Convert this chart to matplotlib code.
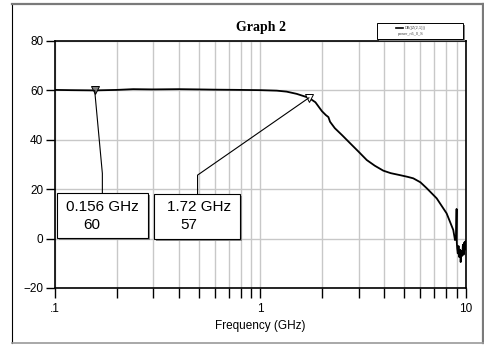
import numpy as np
import matplotlib
matplotlib.use("Agg")
import matplotlib.pyplot as plt
from matplotlib.patches import Rectangle
from matplotlib.lines import Line2D
from matplotlib.ticker import LogLocator, FixedLocator, NullFormatter


# =========================
# DATA
# =========================
freq_ghz = [0.1, 0.12, 0.156, 0.2, 0.24, 0.3, 0.4, 0.5, 0.6, 0.8, 1.0, 1.2,
            1.34, 1.5, 1.72, 1.85, 1.99, 2.08, 2.14, 2.18, 2.3, 2.5, 2.73,
            3.0, 3.29, 3.6, 3.96, 4.3, 4.77, 5.2, 5.54, 6.0, 6.44, 7.2, 8.05,
            8.67, 8.84, 8.95, 9.0, 9.02, 9.06, 9.12, 9.2, 9.28, 9.35, 9.42,
            9.5, 9.58, 9.66, 9.74, 9.82, 9.9, 9.96, 10.0]
gain_db = [60.2, 60.1, 60.0, 60.2, 60.5, 60.4, 60.5, 60.4, 60.3, 60.2, 60.1,
           59.9, 59.5, 58.6, 57.0, 55.2, 51.6, 50.0, 49.2, 47.3, 44.7, 41.8,
           38.6, 35.2, 31.8, 29.5, 27.5, 26.5, 25.7, 25.0, 24.4, 22.8, 20.4,
           16.3, 10.2, 3.5, -0.6, 0.5, 12.0, -1.5, -4.0, -6.0, -3.0, -7.5,
           -4.5, -9.5, -5.0, -7.0, -2.5, -6.5, -1.5, -4.5, -1.0, -4.0]

markers = [(0.156, 60), (1.72, 57)]
marker_labels = [("0.156 GHz", "60"), ("1.72 GHz", "57")]
y_ticks = [-20, 0, 20, 40, 60, 80]
x_ticks = [0.1, 1, 10]
x_tick_labels = [".1", "1", "10"]

plt.rcParams['font.family'] = ['Liberation Sans', 'DejaVu Sans']

fig = plt.figure(figsize=(4.85, 3.45), dpi=100)
W, H = 485.0, 345.0

# outer frame of the graph window
fig.add_artist(Line2D([12 / W, 12 / W], [1 - 4 / H, 1 - 343 / H], color='black', lw=0.8))
fig.add_artist(Line2D([12 / W, 483 / W], [1 - 4 / H, 1 - 4 / H], color='#7a7a7a', lw=1.6))
fig.add_artist(Line2D([483 / W, 483 / W], [1 - 4 / H, 1 - 343 / H], color='#7a7a7a', lw=1.6))
fig.add_artist(Line2D([12 / W, 483 / W], [1 - 343 / H, 1 - 343 / H], color='#9a9a9a', lw=1.2))

ax = fig.add_axes([55 / W, 1 - 288 / H, 411 / W, 247 / H])
ax.set_xscale('log')
ax.set_xlim(0.1, 10)
ax.set_ylim(-20, 80)

ax.plot(freq_ghz, gain_db, color='black', lw=1.3, zorder=3)

# markers
ax.plot(markers[0][0], markers[0][1], marker='v', ms=6, mfc='#808080', mec='black', mew=0.7, zorder=4)
ax.plot(markers[1][0], markers[1][1], marker='v', ms=6, mfc='white', mec='black', mew=0.7, zorder=4)

# grid & ticks
ax.set_yticks(y_ticks)
ax.set_xticks(x_ticks)
ax.set_xticklabels(x_tick_labels)
ax.xaxis.set_minor_locator(LogLocator(base=10, subs=np.arange(2, 10)))
ax.xaxis.set_minor_formatter(NullFormatter())
ax.grid(True, which='both', axis='x', color='#c8c8c8', lw=1.0, zorder=0)
ax.grid(True, which='major', axis='y', color='#c8c8c8', lw=1.0, zorder=0)
ax.tick_params(axis='x', which='both', direction='out', length=7, width=1.0, labelsize=8.5, pad=3.5)
ax.tick_params(axis='y', which='major', direction='out', length=6.5, width=1.0, labelsize=8.5, pad=2)
for s in ax.spines.values():
    s.set_linewidth(1.2)
    s.set_color('black')

ax.set_xlabel("Frequency (GHz)", fontsize=8.5, labelpad=4)
fig.text(261 / W, 1 - 28 / H, "Graph 2", family='Liberation Serif', weight='bold',
         fontsize=10, ha='center', va='center')

# legend box
fig.add_artist(Rectangle((379 / W, 1 - 41 / H), 86 / W, 16 / H, facecolor='#808080',
                         edgecolor='none', transform=fig.transFigure))
fig.add_artist(Rectangle((377 / W, 1 - 39 / H), 86 / W, 16 / H, facecolor='white',
                         edgecolor='black', lw=0.7, transform=fig.transFigure))
fig.add_artist(Line2D([396 / W, 403 / W], [1 - 27.7 / H, 1 - 27.7 / H], color='black', lw=1.2))
fig.text(405 / W, 1 - 27.7 / H, "DB(|Z(2,1)|)", fontsize=2.8, va='center', ha='left', color='#444444')
fig.text(398 / W, 1 - 34 / H, "power_n5_0_S", fontsize=2.8, va='center', ha='left', color='#444444')

# marker leaders
leaders = [[(0.156, 60), (0.17, 26.4), (0.17, 18.6)],
           [(1.72, 57), (0.494, 25.7), (0.494, 18.1)]]
for pts in leaders:
    xs, ys = zip(*pts)
    ax.plot(xs, ys, color='black', lw=0.8, zorder=5, clip_on=False)

# marker boxes (axes fraction)
boxes = [(0.0056, 0.201, 0.2214, 0.185), (0.2416, 0.197, 0.2085, 0.184)]
text_pos = [((0.026, 0.328), (0.069, 0.255)), ((0.272, 0.328), (0.304, 0.255))]
for (bx, by, bw, bh), (t1, t2), (l1, l2) in zip(boxes, text_pos, marker_labels):
    ax.add_patch(Rectangle((bx + 0.005, by - 0.008), bw, bh, transform=ax.transAxes,
                           facecolor='#8a8a8a', edgecolor='none', zorder=6))
    ax.add_patch(Rectangle((bx, by), bw, bh, transform=ax.transAxes,
                           facecolor='white', edgecolor='black', lw=0.8, zorder=7))
    ax.text(t1[0], t1[1], l1, transform=ax.transAxes, fontsize=11, va='center', ha='left', zorder=8)
    ax.text(t2[0], t2[1], l2, transform=ax.transAxes, fontsize=11, va='center', ha='left', zorder=8)

fig.savefig("out.png", dpi=100)
